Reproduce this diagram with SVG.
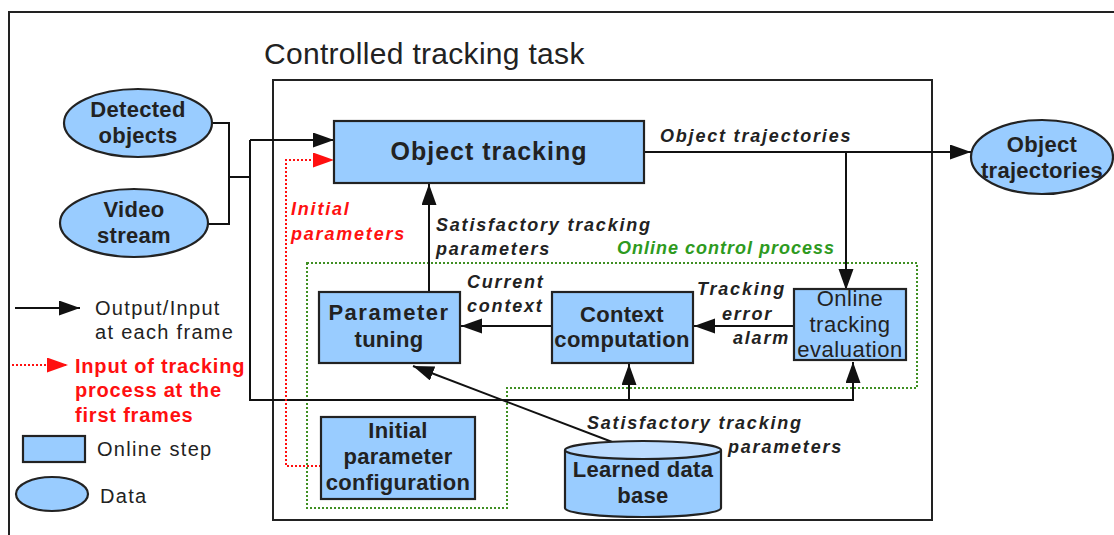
<svg xmlns="http://www.w3.org/2000/svg" width="1114" height="535" viewBox="0 0 1114 535">
<defs>
<style>
.frame{fill:none;stroke:#222;stroke-width:2}
.node{fill:#99ccff;stroke:#222;stroke-width:2.2}
.ln{fill:none;stroke:#111;stroke-width:2}
.red{fill:none;stroke:#ff1010;stroke-width:2;stroke-dasharray:2,2}
.grn{fill:none;stroke:#3f8f22;stroke-width:2;stroke-dasharray:2,2}
.t{font-family:"Liberation Sans",Arial,sans-serif;fill:#222}
.nb{font-weight:bold;font-size:22px;text-anchor:middle;letter-spacing:0.3px}
.nr{font-weight:normal;font-size:22px;text-anchor:middle;letter-spacing:0.5px}
.lab{font-weight:bold;font-style:italic;font-size:18px;letter-spacing:1.8px}
.leg{font-size:20px;letter-spacing:1.3px}
</style>
<marker id="ah" markerUnits="userSpaceOnUse" markerWidth="22" markerHeight="16" refX="21" refY="7.5" orient="auto">
<path d="M0,0 L21,7.5 L0,15 z" fill="#111"/>
</marker>
<marker id="ahr" markerUnits="userSpaceOnUse" markerWidth="22" markerHeight="16" refX="21" refY="7.5" orient="auto">
<path d="M0,0 L21,7.5 L0,15 z" fill="#ff1010"/>
</marker>
</defs>

<g id="frames">
<path class="frame" d="M9,540 V12 H1120"/>
<rect class="frame" x="273" y="80" width="659" height="440"/>
<text class="t" x="264" y="64" font-size="30" style="letter-spacing:0.3px">Controlled tracking task</text>
</g>

<g id="online-control-process">
<path class="grn" d="M307,263 H917 V388 H507 V508 H307 Z"/>
<text class="t lab" x="617" y="254" style="fill:#2e9a1e;letter-spacing:1px">Online control process</text>
</g>

<g id="connectors">
<path class="ln" d="M212,123 H229 V224 H208"/>
<path class="ln" d="M229,177 H250"/>
<path class="ln" d="M250,140 V400 H853 V362" marker-end="url(#ah)"/>
<path class="ln" d="M250,140 H334" marker-end="url(#ah)"/>
<path class="ln" d="M629,400 V364" marker-end="url(#ah)"/>
<path class="ln" d="M644,152 H971" marker-end="url(#ah)"/>
<path class="ln" d="M846,152 V290" marker-end="url(#ah)"/>
<path class="ln" d="M794,326 H694" marker-end="url(#ah)"/>
<path class="ln" d="M552,326 H461" marker-end="url(#ah)"/>
<path class="ln" d="M429,292 V184" marker-end="url(#ah)"/>
<path class="ln" d="M628,448 L413,366" marker-end="url(#ah)"/>
<path class="red" d="M321,466 H286 V160 H334" marker-end="url(#ahr)"/>
<text class="t lab" x="660" y="142">Object trajectories</text>
<text class="t lab" x="436" y="231">Satisfactory tracking</text>
<text class="t lab" x="436" y="255">parameters</text>
<text class="t lab" x="291" y="215" style="fill:#ff1010">Initial</text>
<text class="t lab" x="291" y="240" style="fill:#ff1010">parameters</text>
<text class="t lab" x="467" y="288">Current</text>
<text class="t lab" x="467" y="312">context</text>
<text class="t lab" x="697" y="295">Tracking</text>
<text class="t lab" x="722" y="320">error</text>
<text class="t lab" x="733" y="344">alarm</text>
<text class="t lab" x="587" y="429">Satisfactory tracking</text>
<text class="t lab" x="728" y="453">parameters</text>
</g>

<g id="detected-objects">
<ellipse class="node" cx="138" cy="123" rx="74" ry="34"/>
<text class="t nb" x="138" y="117">Detected</text>
<text class="t nb" x="138" y="143">objects</text>
</g>

<g id="video-stream">
<ellipse class="node" cx="134" cy="223" rx="74" ry="34"/>
<text class="t nb" x="134" y="217">Video</text>
<text class="t nb" x="134" y="243">stream</text>
</g>

<g id="object-tracking">
<rect class="node" x="334" y="121" width="310" height="62"/>
<text class="t nb" x="489" y="160" style="font-size:25px;letter-spacing:1px">Object tracking</text>
</g>

<g id="object-trajectories">
<ellipse class="node" cx="1042" cy="157" rx="71" ry="37"/>
<text class="t nb" x="1042" y="152">Object</text>
<text class="t nb" x="1042" y="178">trajectories</text>
</g>

<g id="parameter-tuning">
<rect class="node" x="319" y="292" width="141" height="71"/>
<text class="t nb" x="389" y="320" style="letter-spacing:1.5px">Parameter</text>
<text class="t nb" x="389" y="347">tuning</text>
</g>

<g id="context-computation">
<rect class="node" x="552" y="292" width="141" height="71"/>
<text class="t nb" x="622" y="322">Context</text>
<text class="t nb" x="622" y="347">computation</text>
</g>

<g id="online-tracking-evaluation">
<rect class="node" x="794" y="289" width="112" height="71"/>
<text class="t nr" x="850" y="306">Online</text>
<text class="t nr" x="850" y="332">tracking</text>
<text class="t nr" x="850" y="357">evaluation</text>
</g>

<g id="initial-parameter-configuration">
<rect class="node" x="321" y="417" width="154" height="82"/>
<text class="t nb" x="398" y="438">Initial</text>
<text class="t nb" x="398" y="464">parameter</text>
<text class="t nb" x="398" y="490">configuration</text>
</g>

<g id="learned-data-base">
<path class="node" d="M565,450 V508 A78,9 0 0 0 721,508 V450"/>
<ellipse class="node" cx="643" cy="450" rx="78" ry="9" style="fill:#bcdcff"/>
<text class="t nb" x="643" y="477">Learned data</text>
<text class="t nb" x="643" y="503">base</text>
</g>

<g id="legend">
<path class="ln" d="M15,308 H80" marker-end="url(#ah)"/>
<text class="t leg" x="95" y="315">Output/Input</text>
<text class="t leg" x="95" y="339">at each frame</text>
<path class="red" d="M12,365 H68" marker-end="url(#ahr)"/>
<text class="t leg" x="75" y="373" style="fill:#ff1010;font-weight:bold;letter-spacing:0.8px">Input of tracking</text>
<text class="t leg" x="75" y="397" style="fill:#ff1010;font-weight:bold;letter-spacing:0.8px">process at the</text>
<text class="t leg" x="75" y="422" style="fill:#ff1010;font-weight:bold;letter-spacing:0.8px">first frames</text>
<rect class="node" x="23" y="436" width="62" height="26"/>
<text class="t leg" x="97" y="456">Online step</text>
<ellipse class="node" cx="52" cy="494" rx="36" ry="17"/>
<text class="t leg" x="100" y="503">Data</text>
</g>
</svg>
